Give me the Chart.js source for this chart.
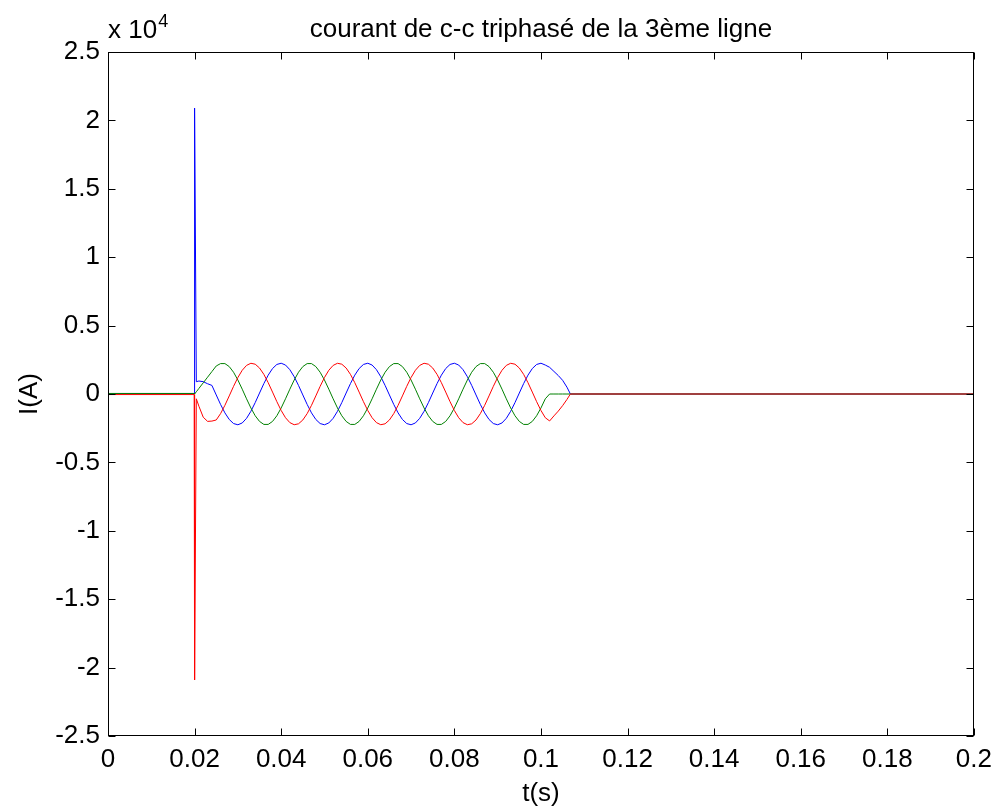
<!DOCTYPE html>
<html>
<head>
<meta charset="utf-8">
<title>courant de c-c triphasé de la 3ème ligne</title>
<script src="https://cdn.jsdelivr.net/npm/chart.js@4/dist/chart.umd.min.js"></script>
<style>
  html, body { margin: 0; padding: 0; background: #fff; }
  #chart { display: block; }
</style>
</head>
<body>
<canvas id="chart" width="1000" height="809"></canvas>
<script>
// time (s)
const tSec = [0, 0.0199, 0.0200, 0.0204,
    0.021, 0.022, 0.023, 0.024, 0.025, 0.026, 0.027, 0.028, 0.029, 0.030,
    0.031, 0.032, 0.033, 0.034, 0.035, 0.036, 0.037, 0.038, 0.039, 0.040,
    0.041, 0.042, 0.043, 0.044, 0.045, 0.046, 0.047, 0.048, 0.049, 0.050,
    0.051, 0.052, 0.053, 0.054, 0.055, 0.056, 0.057, 0.058, 0.059, 0.060,
    0.061, 0.062, 0.063, 0.064, 0.065, 0.066, 0.067, 0.068, 0.069, 0.070,
    0.071, 0.072, 0.073, 0.074, 0.075, 0.076, 0.077, 0.078, 0.079, 0.080,
    0.081, 0.082, 0.083, 0.084, 0.085, 0.086, 0.087, 0.088, 0.089, 0.090,
    0.091, 0.092, 0.093, 0.094, 0.095, 0.096, 0.097, 0.098, 0.099, 0.100,
    0.101, 0.102, 0.103, 0.104, 0.105, 0.106, 0.1068, 0.2];

// phase currents (A)
const iBlue = [20, 20, 20900, 900,
    950, 900, 750, 628, -71, -762, -1379, -1861, -2160, -2249,
    -2117, -1778, -1265, -628, 71, 762, 1379, 1861, 2160, 2249,
    2117, 1778, 1265, 628, -71, -762, -1379, -1861, -2160, -2249,
    -2117, -1778, -1265, -628, 71, 762, 1379, 1861, 2160, 2249,
    2117, 1778, 1265, 628, -71, -762, -1379, -1861, -2160, -2249,
    -2117, -1778, -1265, -628, 71, 762, 1379, 1861, 2160, 2249,
    2117, 1778, 1265, 628, -71, -762, -1379, -1861, -2160, -2249,
    -2117, -1778, -1265, -628, 71, 762, 1379, 1861, 2160, 2249,
    2117, 1950, 1650, 1350, 1000, 500, 0, 0];

const iGreen = [40, 40, 0, 160,
    410, 820, 1230, 1640, 2050, 2223, 2223, 2005, 1591, 1021,
    352, -352, -1021, -1591, -2005, -2223, -2223, -2005, -1591, -1021,
    -352, 352, 1021, 1591, 2005, 2223, 2223, 2005, 1591, 1021,
    352, -352, -1021, -1591, -2005, -2223, -2223, -2005, -1591, -1021,
    -352, 352, 1021, 1591, 2005, 2223, 2223, 2005, 1591, 1021,
    352, -352, -1021, -1591, -2005, -2223, -2223, -2005, -1591, -1021,
    -352, 352, 1021, 1591, 2005, 2223, 2223, 2005, 1591, 1021,
    352, -352, -1021, -1591, -2005, -2223, -2223, -2005, -1591, -1021,
    -352, 0, 0, 0, 0, 0, 0, 0];

const iRed = [-40, -40, -20900, -350,
    -900, -1700, -2000, -1980, -1899, -1434, -828, -141, 560, 1206,
    1734, 2092, 2246, 2179, 1899, 1434, 828, 141, -560, -1206,
    -1734, -2092, -2246, -2179, -1899, -1434, -828, -141, 560, 1206,
    1734, 2092, 2246, 2179, 1899, 1434, 828, 141, -560, -1206,
    -1734, -2092, -2246, -2179, -1899, -1434, -828, -141, 560, 1206,
    1734, 2092, 2246, 2179, 1899, 1434, 828, 141, -560, -1206,
    -1734, -2092, -2246, -2179, -1899, -1434, -828, -141, 560, 1206,
    1734, 2092, 2246, 2179, 1899, 1434, 828, 141, -560, -1206,
    -1734, -1970, -1600, -1250, -850, -400, 0, 0];

const titleText = 'courant de c-c triphasé de la 3ème ligne';
const xLabel = 't(s)';
const yLabel = 'I(A)';
const yMultiplier = 10000;

const FONT = '"Liberation Sans", Arial, Helvetica, sans-serif';
const FONT_SIZE = 26;

function pts(values) {
    return tSec.map((t, i) => ({ x: t, y: values[i] }));
}

function series(values, color) {
    return {
        data: pts(values),
        borderColor: color,
        backgroundColor: color,
        borderWidth: 1,
        pointRadius: 0,
        tension: 0,
        fill: false
    };
}

// MATLAB style box, inward ticks, title and labels
const matlabFrame = {
    id: 'matlabFrame',
    afterDraw(chart) {
        const { ctx, chartArea: a, scales: { x, y } } = chart;
        ctx.save();
        ctx.strokeStyle = '#000';
        ctx.lineWidth = 1;
        const L = Math.round(a.left) + 0.5, R = Math.round(a.right) - 0.5;
        const T = Math.round(a.top) + 0.5, B = Math.round(a.bottom) - 0.5;
        ctx.strokeRect(L, T, R - L, B - T);

        const tick = 7;
        ctx.beginPath();
        x.ticks.forEach(tk => {
            const px = Math.round(x.getPixelForValue(tk.value)) + 0.5;
            ctx.moveTo(px, B); ctx.lineTo(px, B - tick);
            ctx.moveTo(px, T); ctx.lineTo(px, T + tick);
        });
        y.ticks.forEach(tk => {
            const py = Math.round(y.getPixelForValue(tk.value)) + 0.5;
            ctx.moveTo(L, py); ctx.lineTo(L + tick, py);
            ctx.moveTo(R, py); ctx.lineTo(R - tick, py);
        });
        ctx.stroke();

        ctx.fillStyle = '#000';
        const cx = (a.left + a.right) / 2;

        ctx.font = `${FONT_SIZE}px ${FONT}`;
        ctx.textAlign = 'center';
        ctx.textBaseline = 'alphabetic';
        ctx.fillText(titleText, cx, 37);

        ctx.fillText(xLabel, cx, 801);

        ctx.save();
        ctx.translate(37, (a.top + a.bottom) / 2);
        ctx.rotate(-Math.PI / 2);
        ctx.fillText(yLabel, 0, 0);
        ctx.restore();

        // x 10^4
        ctx.textAlign = 'left';
        ctx.fillText('x 10', a.left, 38);
        const w = ctx.measureText('x 10').width;
        ctx.font = `${Math.round(FONT_SIZE * 0.7)}px ${FONT}`;
        ctx.fillText(String(Math.round(Math.log10(yMultiplier))), a.left + w + 1, 27);
        ctx.restore();
    }
};

new Chart(document.getElementById('chart'), {
    type: 'line',
    data: {
        datasets: [
            series(iRed, '#ff0000'),
            series(iGreen, '#008000'),
            series(iBlue, '#0000ff')
        ]
    },
    options: {
        responsive: false,
        animation: false,
        events: [],
        layout: { padding: { top: 52, right: 24, left: 0, bottom: 0 } },
        plugins: {
            legend: { display: false },
            tooltip: { enabled: false },
            title: { display: false }
        },
        scales: {
            x: {
                type: 'linear',
                min: 0,
                max: 0.2,
                grid: { display: false, drawTicks: false },
                border: { display: false },
                afterFit: s => { s.height = 73; },
                ticks: {
                    stepSize: 0.02,
                    padding: 8,
                    maxRotation: 0,
                    autoSkip: false,
                    color: '#000',
                    font: { family: FONT, size: FONT_SIZE },
                    callback: v => String(Number(v.toFixed(2)))
                }
            },
            y: {
                min: -25000,
                max: 25000,
                grid: { display: false, drawTicks: false },
                border: { display: false },
                afterFit: s => { s.width = 108; },
                ticks: {
                    stepSize: 5000,
                    padding: 8,
                    autoSkip: false,
                    color: '#000',
                    font: { family: FONT, size: FONT_SIZE },
                    callback: v => String(Math.round(v / yMultiplier * 10) / 10)
                }
            }
        }
    },
    plugins: [matlabFrame]
});
</script>
</body>
</html>
